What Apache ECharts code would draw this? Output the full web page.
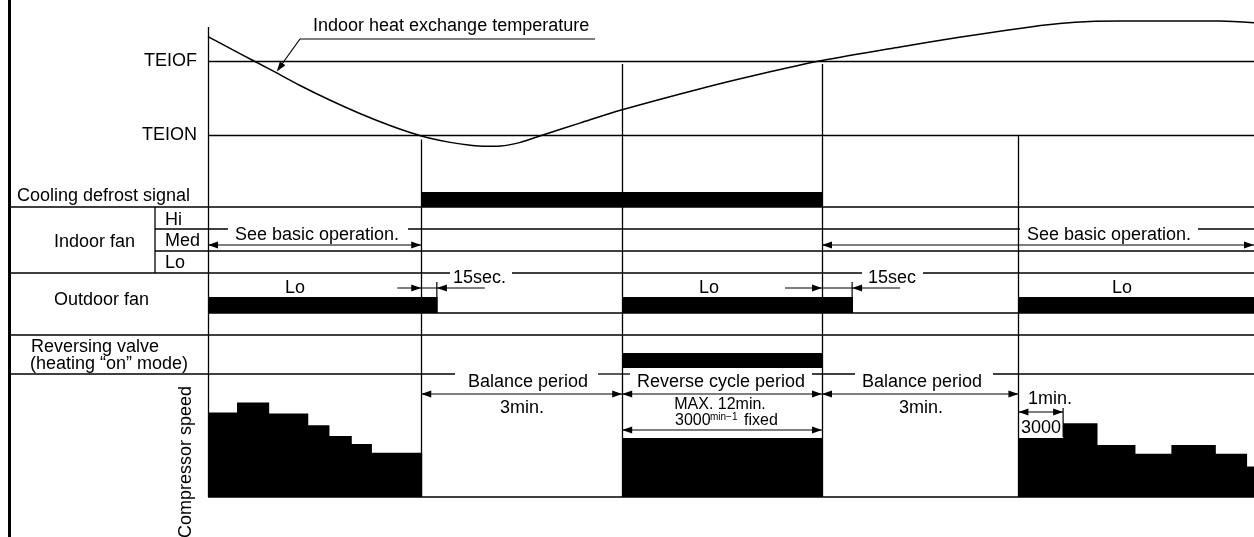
<!DOCTYPE html>
<html><head><meta charset="utf-8">
<script src="https://cdn.jsdelivr.net/npm/echarts@6/dist/echarts.min.js"></script>
<style>html,body{margin:0;padding:0;background:#fff}#c{width:1254px;height:537px}</style>
</head><body><div id="c"></div>
<script>
// ---------- DATA (time in seconds from start of diagram) ----------
const curveTime = [0,29,56,82,109,136,163,181,199,217,235,248,262,279,300,333,371,441,494,550,620,673,727,763,790,817,906,937];
const curveTemp = [23.3,20.97,18.82,16.72,14.73,12.91,11.28,10.34,9.55,9.0,8.62,8.47,8.51,8.97,10.0,11.6,13.4,16.25,18.2,20.05,21.9,23.2,24.4,25.05,25.35,25.41,25.41,25.18];
const TEIOF = 20, TEION = 10;
const phaseTimes = [0, 191, 371, 550, 726];          // start, defrost on, reverse on, reverse off, compressor restart
const phaseGuideTopTemp = [24.6, 9.4, 19.6, 19.6, 10]; // where each guide line starts on the temperature scale
const defrostSignalOn = [[191, 550]];
const outdoorFanLoOn = [[0, 205], [371, 577], [726, 937]];
const reversingValveOn = [[371, 550]];
const compStart = [0, 26, 54, 89, 108, 128, 146, 371, 726, 766, 796, 830, 863, 902, 930];
const compEnd   = [26, 54, 89, 108, 128, 146, 191, 550, 766, 796, 830, 863, 902, 930, 937];
const compSpeed = [4300, 4800, 4250, 3650, 3100, 2700, 2250, 3000, 3000, 3750, 2650, 2200, 2650, 2200, 1550];
const T_MAX = 937;

// ---------- CHART ----------
const FONT = '"Liberation Sans", Arial, Helvetica, sans-serif';
const chart = echarts.init(document.getElementById('c'));
const TEMP_MIN = -38.92, TEMP_MAX = 28.24;
const grids = [
  {left:208, right:0, top:0, height:497},
  {left:208, right:0, top:192, height:15},
  {left:208, right:0, top:297, height:16},
  {left:208, right:0, top:353, height:15},
  {left:208, right:0, top:379, height:118}
].map(g => Object.assign({outerBoundsMode:'none'}, g));
const xAxes = grids.map((_, i) => ({type:'value', gridIndex:i, min:0, max:T_MAX, show:false}));
const yAxes = [
  {type:'value', gridIndex:0, min:TEMP_MIN, max:TEMP_MAX, show:false},
  {type:'value', gridIndex:1, min:0, max:1, show:false},
  {type:'value', gridIndex:2, min:0, max:1, show:false},
  {type:'value', gridIndex:3, min:0, max:1, show:false},
  {type:'value', gridIndex:4, min:0, max:6000, show:false}
];
function rectRender(params, api) {
  const p0 = api.coord([api.value(0), api.value(2)]);
  const p1 = api.coord([api.value(1), 0]);
  const last = api.value(1) >= T_MAX;
  return {type:'rect', shape:{x:p0[0], y:p0[1], width:p1[0]-p0[0] + (last ? 0 : 0.9), height:p1[1]-p0[1]},
          style:{fill:'#000'}};
}
function signalSeries(idx, spans) {
  return {type:'custom', xAxisIndex:idx, yAxisIndex:idx, coordinateSystem:'cartesian2d',
    data: spans.map(s => [s[0], s[1], 1]), encode:{x:[0,1], y:2}, renderItem: rectRender, silent:true, z:3};
}
const lblStyle = {show:true, position:'start', distance:11, color:'#000', fontSize:18, fontFamily:FONT};
chart.setOption({
  animation:false,
  backgroundColor:'#fff',
  grid: grids, xAxis: xAxes, yAxis: yAxes,
  series: [
    {type:'line', xAxisIndex:0, yAxisIndex:0, data: curveTime.map((t, i) => [t, curveTemp[i]]),
     showSymbol:false, smooth:0.3, lineStyle:{color:'#000', width:1.5}, silent:true, z:4,
     markLine:{silent:true, symbol:['none','none'], animation:false, emphasis:{disabled:true},
       lineStyle:{color:'#000', width:1.3, type:'solid'}, label:{show:false},
       data:[
         {yAxis:TEIOF, label:Object.assign({formatter:'TEIOF'}, lblStyle)},
         {yAxis:TEION, label:Object.assign({formatter:'TEION'}, lblStyle)},
         ...phaseTimes.map((t, i) => [{coord:[t, phaseGuideTopTemp[i]]}, {coord:[t, TEMP_MIN]}])
       ]}},
    signalSeries(1, defrostSignalOn),
    signalSeries(2, outdoorFanLoOn),
    signalSeries(3, reversingValveOn),
    {type:'custom', xAxisIndex:4, yAxisIndex:4, coordinateSystem:'cartesian2d',
     data: compStart.map((s, i) => [s, compEnd[i], compSpeed[i]]), encode:{x:[0,1], y:2},
     renderItem: rectRender, silent:true, z:3}
  ]
});

// ---------- ANNOTATIONS / FRAME ----------
const X = t => chart.convertToPixel({xAxisIndex:0}, t);
const g = [];
function L(x1, y1, x2, y2, w) { g.push({type:'line', silent:true, z:5, shape:{x1, y1, x2, y2}, style:{stroke:'#000', lineWidth:w || 1.3}}); }
function head(x, y, dx, dy) {
  const len = 10, hw = 3.4, px = -dy, py = dx;
  g.push({type:'polygon', silent:true, z:6, shape:{points:[[x, y], [x - dx*len + px*hw, y - dy*len + py*hw], [x - dx*len - px*hw, y - dy*len - py*hw]]}, style:{fill:'#000'}});
}
function dim(x1, x2, y) { L(x1, y, x2, y, 1.2); head(x1, y, -1, 0); head(x2, y, 1, 0); }
function T(text, x, y, align, size, extra) {
  g.push(Object.assign({type:'text', x, y, silent:true, z:10,
    style:{text, fill:'#000', font:(size || 18) + 'px ' + FONT, textAlign:align || 'left', align:align || 'left', textVerticalAlign:'middle', verticalAlign:'middle'}}, extra || {}));
}
// left border
g.push({type:'rect', silent:true, z:5, shape:{x:8, y:0, width:3, height:537}, style:{fill:'#000'}});
// row separators
L(10, 207, 1254, 207);
L(10, 273, 450, 273); L(512, 273, 862, 273); L(923, 273, 1254, 273);
L(10, 335, 1254, 335);
L(10, 374, 455, 374); L(598, 374, 630, 374); L(812, 374, 855, 374); L(993, 374, 1254, 374);
L(155, 207, 155, 273);
L(155, 229, 228, 229); L(408, 229, 1020, 229); L(1198, 229, 1254, 229);
L(155, 251, 1254, 251);
L(208, 313, 1254, 313);
L(208, 497, 1254, 497);
// legend leader for curve
L(300, 39, 595, 39, 1.2);
L(300, 39, 278, 69.5, 1.2); head(276.8, 71.5, -0.584, 0.812);
T('Indoor heat exchange temperature', 313, 26);
// left labels
T('Cooling defrost signal', 17, 196);
T('Indoor fan', 54, 242);
T('Hi', 165, 220); T('Med', 165, 241); T('Lo', 165, 263);
T('Outdoor fan', 54, 300);
T('Reversing valve', 31, 347);
T('(heating \u201Con\u201D mode)', 30, 364);
T('Compressor speed', 186, 462, 'center', 18, {rotation: Math.PI / 2});
// indoor fan
const tOn = defrostSignalOn[0][0], tRevOn = reversingValveOn[0][0], tRevOff = reversingValveOn[0][1], tRestart = compStart[8];
dim(X(0), X(tOn), 245);
dim(X(tRevOff), X(T_MAX), 245);
T('See basic operation.', 235, 235);
T('See basic operation.', 1027, 235);
// outdoor fan
[[tOn, outdoorFanLoOn[0][1], 24], [tRevOff, outdoorFanLoOn[1][1], 37]].forEach(([a, b, pre]) => {
  const xa = X(a), xb = X(b);
  L(xa - pre, 288, xb, 288, 1.2); head(xa, 288, 1, 0);
  L(xb, 282, xb, 297, 1.2);
  L(xb, 288, xb + 48, 288, 1.2); head(xb, 288, -1, 0);
});
T('Lo', 295, 288, 'center'); T('Lo', 709, 288, 'center'); T('Lo', 1122, 288, 'center');
T('15sec.', 453, 278); T('15sec', 868, 278);
// compressor period arrows
dim(X(tOn), X(tRevOn), 394);
dim(X(tRevOn), X(tRevOff), 394);
dim(X(tRevOff), X(tRestart), 394);
dim(X(tRevOn), X(tRevOff), 430);
T('Balance period', 528, 382, 'center');
T('Reverse cycle period', 721, 382, 'center');
T('Balance period', 922, 382, 'center');
T('3min.', 522, 408, 'center');
T('3min.', 921, 408, 'center');
T('MAX. 12min.', 720, 405, 'center', 16);
T('3000', 675, 421, 'left', 16);
T('min\u22121', 710, 417, 'left', 10);
T('fixed', 744, 421, 'left', 16);
// 1 min marker
dim(X(tRestart), X(compStart[9]), 412);
L(X(compStart[9]), 408, X(compStart[9]), 437, 1.2);
T('1min.', 1050, 399, 'center');
T('3000', 1041, 428, 'center');
chart.setOption({graphic: g});
</script></body></html>
